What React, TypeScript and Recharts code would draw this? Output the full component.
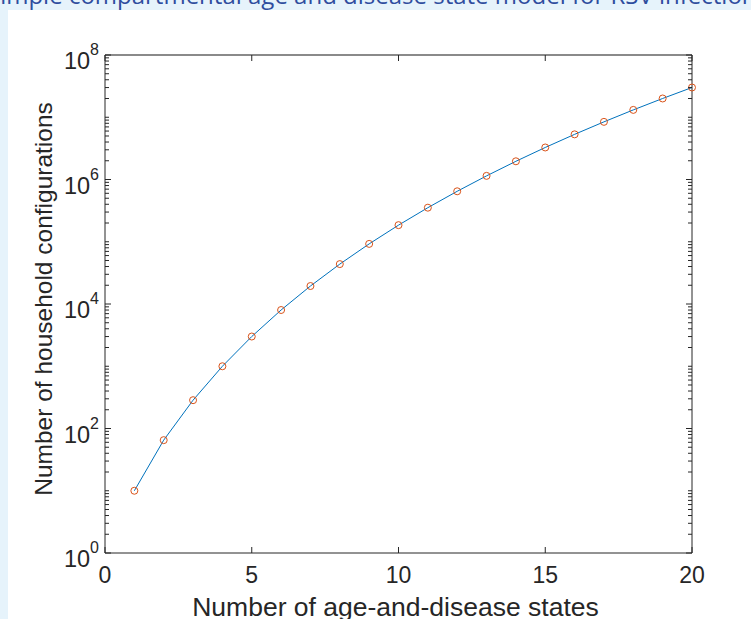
import React from 'react';
import { LineChart, Line, XAxis, YAxis, Label } from 'recharts';

// ---- data ----
const stateCounts = [1, 2, 3, 4, 5, 6, 7, 8, 9, 10, 11, 12, 13, 14, 15, 16, 17, 18, 19, 20];
const configCounts = [
  10, 65, 285, 1000, 3002, 8007, 19447, 43757, 92377, 184755,
  352715, 646645, 1144065, 1961255, 3268759, 5311734, 8436284, 13123109, 20030009, 30045014,
];
const xTickValues = [0, 5, 10, 15, 20];
const yMajorTicks = [1, 1e2, 1e4, 1e6, 1e8];
const yMajorExponents = ['0', '2', '4', '6', '8'];
const minorMultipliers = [1, 2, 3, 4, 5, 6, 7, 8, 9];
const titleText = 'Simple compartmental age and disease state model for RSV infection';
const xLabelText = 'Number of age-and-disease states';
const yLabelText = 'Number of household configurations';

const data = stateCounts.map((s, i) => ({ states: s, configs: configCounts[i] }));

const yAllTicks: number[] = [];
for (let k = 0; k < 8; k++) {
  for (const m of minorMultipliers) yAllTicks.push(m * Math.pow(10, k));
}
yAllTicks.push(1e8);

const AXIS = '#262626';
const FONT = '"Liberation Sans", Arial, Helvetica, sans-serif';

const majorIndex = (v: number) => yMajorTicks.findIndex((t) => Math.abs(t - v) / t < 1e-9);

const LeftTick = (props: any) => {
  const { x, y, payload } = props;
  const idx = majorIndex(payload.value);
  const len = idx >= 0 ? 6 : 4;
  return (
    <g>
      <line x1={x} x2={x + len} y1={y} y2={y} stroke={AXIS} strokeWidth={1} />
      {idx >= 0 && (
        <text x={x - 6} y={y + 14} textAnchor="end" fill={AXIS} fontFamily={FONT} fontSize={23.5}>
          <tspan>10</tspan>
          <tspan dy={-14} fontSize={16}>{yMajorExponents[idx]}</tspan>
        </text>
      )}
    </g>
  );
};

const RightTick = (props: any) => {
  const { x, y, payload } = props;
  const idx = majorIndex(payload.value);
  const len = idx >= 0 ? 6 : 4;
  return <line x1={x} x2={x - len} y1={y} y2={y} stroke={AXIS} strokeWidth={1} />;
};

const BottomTick = (props: any) => {
  const { x, y, payload } = props;
  return (
    <g>
      <line x1={x} x2={x} y1={y} y2={y - 6} stroke={AXIS} strokeWidth={1} />
      <text x={x} y={y + 30} textAnchor="middle" fill={AXIS} fontFamily={FONT} fontSize={23}>
        {payload.value}
      </text>
    </g>
  );
};

const TopTick = (props: any) => {
  const { x, y } = props;
  return <line x1={x} x2={x} y1={y} y2={y + 6} stroke={AXIS} strokeWidth={1} />;
};

const XTitle = (props: any) => {
  const vb = props.viewBox || { x: 105, y: 553, width: 587, height: 40 };
  return (
    <text x={vb.x + vb.width / 2 - 3} y={vb.y + 63} textAnchor="middle" fill={AXIS} fontFamily={FONT} fontSize={26.5}>
      {xLabelText}
    </text>
  );
};

const YTitle = (props: any) => {
  const vb = props.viewBox || { x: 45, y: 55, width: 60, height: 498 };
  const cx = vb.x + 7;
  const cy = vb.y + vb.height / 2 - 5;
  return (
    <text
      x={cx}
      y={cy}
      transform={`rotate(-90, ${cx}, ${cy})`}
      textAnchor="middle"
      fill={AXIS}
      fontFamily={FONT}
      fontSize={24.5}
    >
      {yLabelText}
    </text>
  );
};

export default function App() {
  return (
    <div
      style={{
        position: 'absolute',
        left: 0,
        top: 0,
        width: 751,
        height: 619,
        overflow: 'hidden',
        background: '#E6F3FB',
      }}
    >
      <div
        style={{
          position: 'absolute',
          left: -13,
          top: -17.3,
          whiteSpace: 'nowrap',
          fontFamily: '"Open Sans", "Noto Sans", sans-serif',
          fontSize: 24,
          lineHeight: '24px',
          color: '#2F4D9E',
        }}
      >
        {titleText}
      </div>
      <div style={{ position: 'absolute', left: 8, top: 10, width: 743, height: 609, background: '#FFFFFF' }} />
      <div style={{ position: 'absolute', left: 0, top: 0 }}>
        <LineChart width={751} height={619} data={data} margin={{ top: 45, right: 49, bottom: 26, left: 45 }}>
          <XAxis
            xAxisId="bottom"
            dataKey="states"
            type="number"
            domain={[0, 20]}
            ticks={xTickValues}
            interval={0}
            height={40}
            tickLine={false}
            tickSize={0}
            tickMargin={0}
            axisLine={{ stroke: AXIS, strokeWidth: 1 }}
            tick={<BottomTick />}
          >
            <Label content={<XTitle />} />
          </XAxis>
          <XAxis
            xAxisId="top"
            orientation="top"
            dataKey="states"
            type="number"
            domain={[0, 20]}
            ticks={xTickValues}
            interval={0}
            height={10}
            tickLine={false}
            tickSize={0}
            tickMargin={0}
            axisLine={{ stroke: '#8a8a8a', strokeWidth: 2 }}
            tick={<TopTick />}
          />
          <YAxis
            yAxisId="left"
            type="number"
            scale="log"
            domain={[1, 1e8]}
            ticks={yAllTicks}
            interval={0}
            width={60}
            tickLine={false}
            tickSize={0}
            tickMargin={0}
            axisLine={{ stroke: AXIS, strokeWidth: 1 }}
            tick={<LeftTick />}
          >
            <Label content={<YTitle />} />
          </YAxis>
          <YAxis
            yAxisId="right"
            orientation="right"
            type="number"
            scale="log"
            domain={[1, 1e8]}
            ticks={yAllTicks}
            interval={0}
            width={10}
            tickLine={false}
            tickSize={0}
            tickMargin={0}
            axisLine={{ stroke: AXIS, strokeWidth: 1 }}
            tick={<RightTick />}
          />
          <Line
            xAxisId="top"
            yAxisId="right"
            dataKey="configs"
            stroke="none"
            dot={false}
            activeDot={false}
            isAnimationActive={false}
          />
          <Line
            xAxisId="bottom"
            yAxisId="left"
            dataKey="configs"
            type="linear"
            stroke="#0072BD"
            strokeWidth={1}
            dot={{ r: 3.5, stroke: '#D95319', fill: 'none', strokeWidth: 1 }}
            activeDot={false}
            isAnimationActive={false}
          />
        </LineChart>
      </div>
    </div>
  );
}
